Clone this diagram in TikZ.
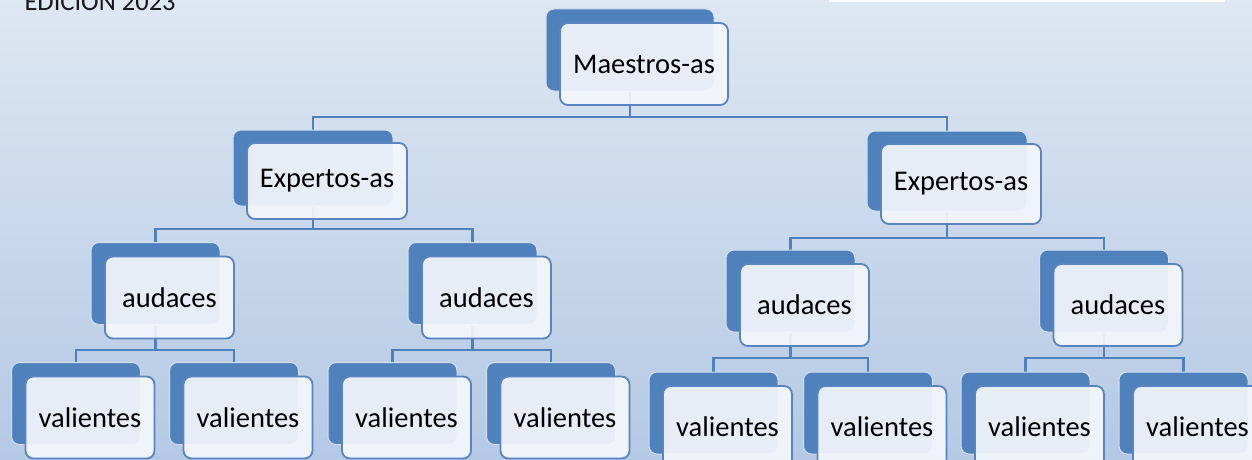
\documentclass[tikz,border=0pt]{standalone}
\usepackage{fontspec}
\setmainfont{Carlito}
\definecolor{darkbox}{RGB}{79,129,189}
\definecolor{boxline}{RGB}{88,132,191}
\definecolor{boxfill}{RGB}{244,247,252}
\definecolor{bgtop}{RGB}{222,231,242}
\definecolor{bgbot}{RGB}{180,201,228}
\pgfdeclarelayer{bg}
\pgfdeclarelayer{lines}
\pgfsetlayers{bg,lines,main}

\begin{document}
\begin{tikzpicture}[x=1pt,y=-1pt]
    \tikzset{back/.style = {shape=rectangle,rounded corners=8pt,fill=darkbox,draw=white!75!darkbox,line width=1pt}}
    \tikzset{front/.style = {shape=rectangle,rounded corners=8pt,fill=boxfill,fill opacity=0.92,text opacity=1,draw=boxline,line width=1.8pt,inner sep=0pt,font=\fontsize{28.5}{32}\selectfont}}
    \tikzset{link/.style = {draw=darkbox,line width=2.2pt}}
    \tikzset{msize/.style = {minimum width=168pt,minimum height=82pt}}
    \tikzset{esize/.style = {minimum width=160pt,minimum height=76pt}}
    \tikzset{vsize/.style = {minimum width=129pt,minimum height=82pt}}
    \useasboundingbox (0,0) rectangle (1252,460);
    \clip (0,0) rectangle (1252,460);
    \begin{pgfonlayer}{bg}
    \shade[top color=bgtop,bottom color=bgbot] (0,0) rectangle (1252,460);
    \fill[white] (829,-2) rectangle (1225,2);
    \end{pgfonlayer}
    \node[anchor=base west,font=\fontsize{26.5}{30}\selectfont,text=black!90] (edicion) at (21,11) {EDICIÓN 2023};
    % back boxes
    \node[back,msize] (m0) at (630,50) {};
    \node[back,esize] (e10) at (313,168) {};
    \node[back,esize,minimum height=80pt] (e20) at (947,171) {};
    \node[back,vsize] (a10) at (155.5,283.5) {};
    \node[back,vsize] (a20) at (472.5,283.5) {};
    \node[back,vsize] (a30) at (790.5,291) {};
    \node[back,vsize] (a40) at (1104,291) {};
    \node[back,vsize] (v10) at (76,403.5) {};
    \node[back,vsize] (v20) at (234,403.5) {};
    \node[back,vsize] (v30) at (392.5,403.5) {};
    \node[back,vsize] (v40) at (551,403.5) {};
    \node[back,vsize] (v50) at (713.5,413) {};
    \node[back,vsize] (v60) at (868,413) {};
    \node[back,vsize] (v70) at (1025.5,413) {};
    \node[back,vsize] (v80) at (1183.5,413) {};
    % front boxes
    \node[front,msize] (m) at ([shift={(14,14)}]m0) {Maestros-as};
    \node[front,esize] (e1) at ([shift={(14,13)}]e10) {Expertos-as};
    \node[front,esize,minimum height=80pt] (e2) at ([shift={(14,13)}]e20) {Expertos-as};
    \node[front,vsize] (a1) at ([shift={(14,14)}]a10) {audaces};
    \node[front,vsize] (a2) at ([shift={(14,14)}]a20) {audaces};
    \node[front,vsize] (a3) at ([shift={(14,14)}]a30) {audaces};
    \node[front,vsize] (a4) at ([shift={(14,14)}]a40) {audaces};
    \node[front,vsize] (v1) at ([shift={(14,14)}]v10) {valientes};
    \node[front,vsize] (v2) at ([shift={(14,14)}]v20) {valientes};
    \node[front,vsize] (v3) at ([shift={(14,14)}]v30) {valientes};
    \node[front,vsize] (v4) at ([shift={(14,14)}]v40) {valientes};
    \node[front,vsize] (v5) at ([shift={(14,14)}]v50) {valientes};
    \node[front,vsize] (v6) at ([shift={(14,14)}]v60) {valientes};
    \node[front,vsize] (v7) at ([shift={(14,14)}]v70) {valientes};
    \node[front,vsize] (v8) at ([shift={(14,14)}]v80) {valientes};
    % links
    \begin{pgfonlayer}{lines}
    \foreach \p/\c/\y in {m0/e10/117,m0/e20/117,e10/a10/229,e10/a20/229,e20/a30/238,e20/a40/238,
        a10/v10/350,a10/v20/350,a20/v30/350,a20/v40/350,a30/v50/358,a30/v60/358,a40/v70/358,a40/v80/358}
        \draw[link] (\p.south) -- (\p.south |- 0,\y) -| (\c.north);
    \end{pgfonlayer}
\end{tikzpicture}
\end{document}
